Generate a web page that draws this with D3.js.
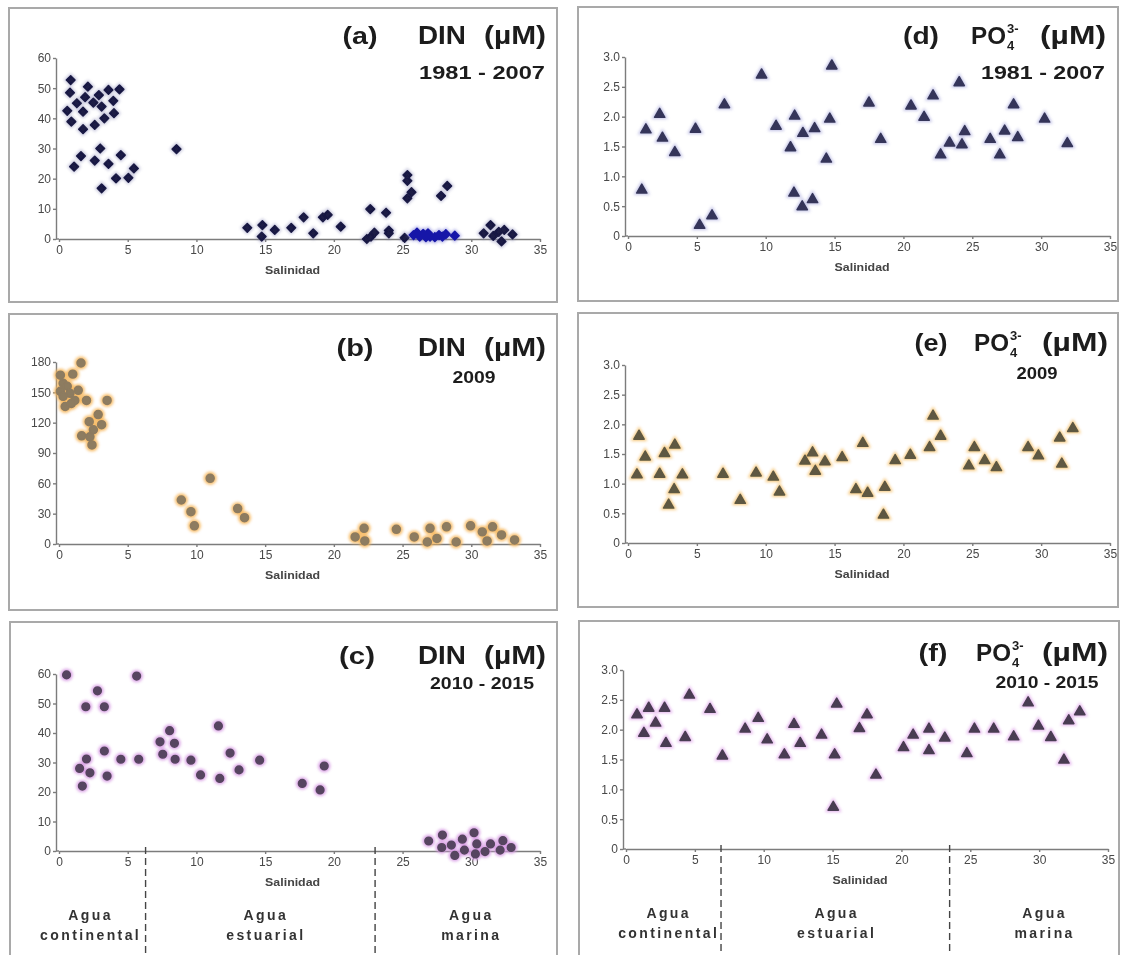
<!DOCTYPE html>
<html>
<head>
<meta charset="utf-8">
<script src="https://cdn.jsdelivr.net/npm/d3@7"></script>
<style>
body { margin: 0; background: #fff; }
svg { display: block; font-family: "Liberation Sans", Arial, sans-serif; }
.frame { fill: none; stroke: #a9a9a9; stroke-width: 2; }
.axis path, .axis line { stroke: #7c7c7c; stroke-width: 1.4; }
.axis text { fill: #484848; font-size: 12px; font-family: "Liberation Sans", Arial, sans-serif; }
.title { fill: #1c1c1c; font-weight: bold; }
.xlabel { fill: #444; font-size: 10.5px; font-weight: bold; }
.water { fill: #333; font-size: 14px; font-weight: bold; letter-spacing: 2.4px; }
.limit { stroke: #444; stroke-width: 1.4; stroke-dasharray: 7,4; }
</style>
</head>
<body>
<svg id="chart" width="1124" height="955"></svg>
<script>
// ticks
var salinityTicks = [0, 5, 10, 15, 20, 25, 30, 35];
var dinTicks60 = [0, 10, 20, 30, 40, 50, 60];
var dinTicks180 = [0, 30, 60, 90, 120, 150, 180];
var po4Ticks = [0, 0.5, 1.0, 1.5, 2.0, 2.5, 3.0];

// [salinidad, valor]
var dinA = [[0.85,52.7],[0.8,48.5],[2.1,50.5],[3.6,49.4],[4.4,49.6],[0.6,42.5],[1.3,45],[1.9,47],[2.5,45.2],
	[2.9,47.7],[3.1,43.9],[3.95,45.8],[1.75,42.2],[0.9,38.9],[1.75,36.4],[2.6,37.8],[3.3,40],[4.0,41.7],
	[3.0,30],[1.6,27.5],[1.1,24],[2.6,26],[3.6,24.9],[4.5,27.8],[5.45,23.4],[4.15,20.1],[5.05,20.3],[3.1,16.8],
	[8.55,29.8],[13.7,3.7],[14.8,4.6],[14.75,0.8],[15.7,3.0],[16.9,3.7],[17.8,7.2],[18.5,1.9],[19.2,7.2],
	[19.55,8.0],[20.5,4.1],[22.65,9.9],[23.8,8.7],[22.4,0],[22.7,0.8],[22.95,2.1],[24.0,2.8],[24.0,1.9],
	[25.35,21.2],[25.35,19.3],[25.65,15.5],[25.35,13.5],[28.25,17.6],[27.8,14.3],[25.15,0.4],
	[30.9,1.9],[31.4,4.6],[31.6,1.0],[32.0,2.4],[32.2,-0.8],[32.4,3.0],[33.0,1.5]];
var dinAblue = [[25.8,1.3],[26.05,2.1],[26.25,0.8],[26.5,1.7],[26.7,0.6],[26.85,1.9],[27.0,0.8],
	[27.35,0.6],[27.65,1.3],[27.9,0.8],[28.15,1.6],[28.8,1.1]];
var dinB = [[1.6,179],[1.0,168],[0.1,167],[0.3,159],[0.6,156],[1.4,152],[0.1,151],[0.8,149],[0.3,146],
	[1.15,142],[2.0,142],[3.5,142],[0.45,136],[0.9,139],[2.85,128],[2.2,121],[3.1,118],[2.5,113],[1.65,107],
	[2.25,106],[2.4,98],[8.9,43.5],[9.6,32],[9.85,18],[11.0,65],[13.0,35],[13.5,26],[21.55,7],[22.2,15.5],
	[22.25,3],[24.55,14.5],[25.85,7],[26.8,2],[27.0,15.5],[27.5,5.5],[28.2,17],[28.9,2],[29.95,18],[30.8,12],
	[31.15,3],[31.55,17],[32.2,9],[33.15,4]];
var dinC = [[0.55,59.7],[5.65,59.3],[2.8,54.3],[1.95,48.9],[3.3,48.9],[1.5,28],[2.0,31.2],[2.25,26.5],
	[1.7,22],[3.3,33.9],[3.5,25.4],[4.5,31.1],[5.8,31.1],[7.35,37],[7.55,32.8],[8.05,40.8],[8.4,36.5],
	[8.45,31.1],[9.6,30.8],[10.3,25.8],[11.6,42.4],[11.7,24.6],[12.45,33.2],[13.1,27.5],[14.6,30.8],
	[17.7,22.9],[19.0,20.7],[19.3,28.8],[26.9,3.4],[27.9,5.4],[27.85,1.2],[28.55,2.0],[28.8,-1.5],[29.35,4.0],
	[29.5,0.3],[30.2,6.2],[30.4,2.4],[30.3,-1],[31.0,-0.2],[31.4,2.4],[32.1,0.3],[32.3,3.5],[32.9,1.2]];
var po4D = [[1.0,0.77],[1.3,1.78],[2.3,2.04],[2.5,1.64],[3.4,1.40],[4.9,1.79],[5.2,0.18],[6.1,0.34],
	[7.0,2.2],[9.7,2.7],[10.75,1.84],[11.8,1.48],[12.1,2.01],[12.05,0.72],[12.65,0.49],[12.7,1.72],
	[13.4,0.61],[13.55,1.80],[14.4,1.29],[14.65,1.96],[14.8,2.85],[17.5,2.23],[18.35,1.62],[20.55,2.18],
	[21.5,1.99],[22.15,2.35],[22.7,1.36],[23.35,1.56],[24.05,2.57],[24.25,1.53],[24.45,1.75],[26.3,1.62],
	[27.0,1.36],[27.35,1.76],[28.0,2.2],[28.3,1.65],[30.25,1.96],[31.9,1.55]];
var po4E = [[0.65,1.15],[0.8,1.80],[1.25,1.45],[2.3,1.16],[2.65,1.51],[2.95,0.64],[3.35,0.90],[3.4,1.65],
	[3.95,1.15],[6.9,1.16],[8.15,0.72],[9.3,1.18],[10.55,1.11],[11.0,0.86],[12.85,1.38],[13.4,1.52],
	[13.6,1.21],[14.3,1.37],[15.55,1.44],[16.55,0.90],[17.05,1.68],[17.4,0.84],[18.55,0.47],[18.65,0.94],
	[19.4,1.39],[20.5,1.48],[21.9,1.61],[22.15,2.14],[22.7,1.80],[24.75,1.30],[25.15,1.61],[25.9,1.39],
	[26.75,1.27],[29.05,1.61],[29.8,1.47],[31.35,1.77],[31.5,1.33],[32.3,1.93]];
var po4F = [[0.8,2.25],[1.3,1.94],[1.65,2.36],[2.15,2.11],[2.8,2.36],[2.9,1.77],[4.3,1.87],[4.6,2.58],
	[6.1,2.34],[7.0,1.56],[8.65,2.01],[9.6,2.19],[10.25,1.83],[11.5,1.58],[12.2,2.09],[12.65,1.77],
	[14.2,1.91],[15.05,0.70],[15.15,1.58],[15.3,2.43],[16.95,2.02],[17.5,2.25],[18.15,1.24],[20.15,1.70],
	[20.85,1.91],[22.0,2.01],[22.0,1.65],[23.15,1.86],[24.75,1.60],[25.3,2.01],[26.7,2.01],[28.15,1.88],
	[29.2,2.45],[29.95,2.06],[30.85,1.87],[31.8,1.49],[32.15,2.15],[32.95,2.30]];

// water masses
var waterNames = [["Agua", "continental"], ["Agua", "estuarial"], ["Agua", "marina"]];
var waterLimitsC = [6.3, 23.0];
var waterLimitsF = [6.9, 23.5];
var waterCentersC = [2.3, 15.05, 30.0];
var waterCentersF = [3.1, 15.3, 30.4];

var svg = d3.select("#chart");

var defs = svg.append("defs");
defs.append("filter").attr("id", "halo").attr("x", "-50%").attr("y", "-50%").attr("width", "200%").attr("height", "200%")
	.append("feGaussianBlur").attr("stdDeviation", 1.6);
defs.append("filter").attr("id", "soft").attr("x", "-20%").attr("y", "-20%").attr("width", "140%").attr("height", "140%")
	.append("feGaussianBlur").attr("stdDeviation", 0.4);

var fmtInt = d3.format("d");
var fmtPo4 = function(d) { return d === 0 ? "0" : d3.format(".1f")(d); };

var panels = [
	{ id: "a", box: [9, 8, 548, 294], xr: [59, 540], yr: [239, 58], yMax: 60, ticks: dinTicks60, fmt: fmtInt,
	  series: [{ data: dinA, fill: "#1a1a44", halo: "#8c8cb8", shape: d3.symbolDiamond2, size: 48, haloOp: 0.5 },
	           { data: dinAblue, fill: "#1515a8", halo: "#6a6ad0", shape: d3.symbolDiamond2, size: 48, haloOp: 0.5 }],
	  kind: "DIN", letterX: 360, letterW: 35, titleY: 44, paramX: 418, paramW: 48, unitX: 546, unitW: 62,
	  period: "1981 - 2007", periodX: 482, periodW: 126, periodY: 79, periodSize: 19 },
	{ id: "b", box: [9, 314, 548, 296], xr: [59, 540], yr: [544, 362], yMax: 180, ticks: dinTicks180, fmt: fmtInt,
	  series: [{ data: dinB, fill: "#8d7b60", halo: "#f6b455", shape: d3.symbolCircle, size: 50, haloOp: 0.9 }],
	  kind: "DIN", letterX: 355, letterW: 37, titleY: 356, paramX: 418, paramW: 48, unitX: 546, unitW: 62,
	  period: "2009", periodX: 474, periodW: 43, periodY: 383, periodSize: 16 },
	{ id: "c", box: [10, 622, 547, 340], xr: [59, 540], yr: [851, 674], yMax: 60, ticks: dinTicks60, fmt: fmtInt,
	  series: [{ data: dinC, fill: "#574560", halo: "#d596e2", shape: d3.symbolCircle, size: 46, haloOp: 0.9 }],
	  kind: "DIN", letterX: 357, letterW: 36, titleY: 664, paramX: 418, paramW: 48, unitX: 546, unitW: 62,
	  period: "2010 - 2015", periodX: 482, periodW: 104, periodY: 689, periodSize: 17,
	  limits: waterLimitsC, centers: waterCentersC, waterY: 920 },
	{ id: "d", box: [578, 7, 540, 294], xr: [628, 1110], yr: [236, 57], yMax: 3, ticks: po4Ticks, fmt: fmtPo4,
	  series: [{ data: po4D, fill: "#35365a", halo: "#b4b4e0", shape: d3.symbolTriangle, size: 46, haloOp: 0.8 }],
	  kind: "PO4", letterX: 921, letterW: 36, titleY: 44, paramX: 971, paramW: 35, unitX: 1106, unitW: 66,
	  period: "1981 - 2007", periodX: 1043, periodW: 124, periodY: 79, periodSize: 19 },
	{ id: "e", box: [578, 313, 540, 294], xr: [628, 1110], yr: [543, 365], yMax: 3, ticks: po4Ticks, fmt: fmtPo4,
	  series: [{ data: po4E, fill: "#5e5842", halo: "#f4c06a", shape: d3.symbolTriangle, size: 46, haloOp: 0.9 }],
	  kind: "PO4", letterX: 931, letterW: 33, titleY: 351, paramX: 974, paramW: 35, unitX: 1108, unitW: 66,
	  period: "2009", periodX: 1037, periodW: 41, periodY: 379, periodSize: 16 },
	{ id: "f", box: [579, 621, 540, 340], xr: [626, 1108], yr: [849, 670], yMax: 3, ticks: po4Ticks, fmt: fmtPo4,
	  series: [{ data: po4F, fill: "#4a3c52", halo: "#e0a8ea", shape: d3.symbolTriangle, size: 46, haloOp: 0.9 }],
	  kind: "PO4", letterX: 933, letterW: 29, titleY: 661, paramX: 976, paramW: 35, unitX: 1108, unitW: 66,
	  period: "2010 - 2015", periodX: 1047, periodW: 103, periodY: 688, periodSize: 17,
	  limits: waterLimitsF, centers: waterCentersF, waterY: 918 }
];

function title(g, txt, xPos, yPos, size, anchor, width) {
	var t = g.append("text").attr("class", "title")
		.attr("x", xPos).attr("y", yPos)
		.attr("text-anchor", anchor)
		.style("font-size", size + "px")
		.text(txt);
	if (width) {
		t.attr("textLength", width).attr("lengthAdjust", "spacingAndGlyphs");
	}
	return t;
}

function drawPanel(p) {
	var x = d3.scaleLinear().domain([0, 35]).range(p.xr);
	var y = d3.scaleLinear().domain([0, p.yMax]).range(p.yr);
	var g = svg.append("g").attr("class", "panel-" + p.id);

	g.append("rect")
		.attr("class", "frame")
		.attr("x", p.box[0]).attr("y", p.box[1])
		.attr("width", p.box[2]).attr("height", p.box[3]);

	// axes (y axis sits a little left of salinity 0, as in the original)
	var ax = g.append("g").attr("filter", "url(#soft)");
	ax.append("g")
		.attr("class", "axis")
		.attr("transform", "translate(0," + y(0) + ")")
		.call(d3.axisBottom(x).tickValues(salinityTicks).tickFormat(fmtInt)
			.tickSize(3).tickSizeOuter(0).tickPadding(3));
	ax.append("line")
		.attr("x1", x(0) - 3).attr("x2", x(0))
		.attr("y1", y(0)).attr("y2", y(0))
		.attr("stroke", "#7c7c7c").attr("stroke-width", 1.4);
	ax.append("g")
		.attr("class", "axis")
		.attr("transform", "translate(" + (x(0) - 3) + ",0)")
		.call(d3.axisLeft(y).tickValues(p.ticks).tickFormat(p.fmt)
			.tickSize(3).tickSizeOuter(0).tickPadding(2));

	ax.append("text")
		.attr("class", "xlabel")
		.attr("x", x(17)).attr("y", y(0) + 35)
		.attr("text-anchor", "middle")
		.attr("textLength", 55).attr("lengthAdjust", "spacingAndGlyphs")
		.text("Salinidad");

	// points: soft coloured halo, then the dark core
	p.series.forEach(function(s) {
		var haloSym = d3.symbol().type(s.shape).size(s.size * 2.6);
		var coreSym = d3.symbol().type(s.shape).size(s.size);
		g.append("g").attr("filter", "url(#halo)").attr("opacity", s.haloOp)
			.selectAll("path")
			.data(s.data)
			.enter().append("path")
			.attr("d", haloSym)
			.attr("transform", function(d) { return "translate(" + x(d[0]) + "," + y(d[1]) + ")"; })
			.attr("fill", s.halo);
		g.append("g").attr("filter", "url(#soft)")
			.selectAll("path")
			.data(s.data)
			.enter().append("path")
			.attr("d", coreSym)
			.attr("transform", function(d) { return "translate(" + x(d[0]) + "," + y(d[1]) + ")"; })
			.attr("fill", s.fill)
			.attr("stroke", s.fill)
			.attr("stroke-width", 1.5)
			.attr("stroke-linejoin", "round");
	});

	// titles
	var tg = g.append("g").attr("filter", "url(#soft)");
	title(tg, "(" + p.id + ")", p.letterX, p.titleY, 24, "middle", p.letterW);
	if (p.kind === "DIN") {
		title(tg, "DIN", p.paramX, p.titleY, 25, "start", p.paramW);
	} else {
		title(tg, "PO", p.paramX, p.titleY, 24, "start", p.paramW);
		title(tg, "4", p.paramX + p.paramW + 1, p.titleY + 6, 13, "start");
		title(tg, "3-", p.paramX + p.paramW + 1, p.titleY - 11, 13, "start");
	}
	title(tg, "(µM)", p.unitX, p.titleY, 25, "end", p.unitW);
	title(tg, p.period, p.periodX, p.periodY, p.periodSize, "middle", p.periodW);

	// water mass zones
	if (p.limits) {
		var wg = g.append("g").attr("filter", "url(#soft)");
		wg.selectAll("line.limit")
			.data(p.limits)
			.enter().append("line")
			.attr("class", "limit")
			.attr("x1", function(d) { return x(d); }).attr("x2", function(d) { return x(d); })
			.attr("y1", y(0) - 4).attr("y2", 955);
		var wt = wg.selectAll("text.water")
			.data(waterNames)
			.enter().append("text")
			.attr("class", "water")
			.attr("text-anchor", "middle")
			.attr("x", function(d, i) { return x(p.centers[i]); })
			.attr("y", p.waterY);
		wt.append("tspan").text(function(d) { return d[0]; });
		wt.append("tspan")
			.attr("x", function(d, i) { return x(p.centers[i]); })
			.attr("dy", 20)
			.text(function(d) { return d[1]; });
	}
}

panels.forEach(drawPanel);
</script>
</body>
</html>
